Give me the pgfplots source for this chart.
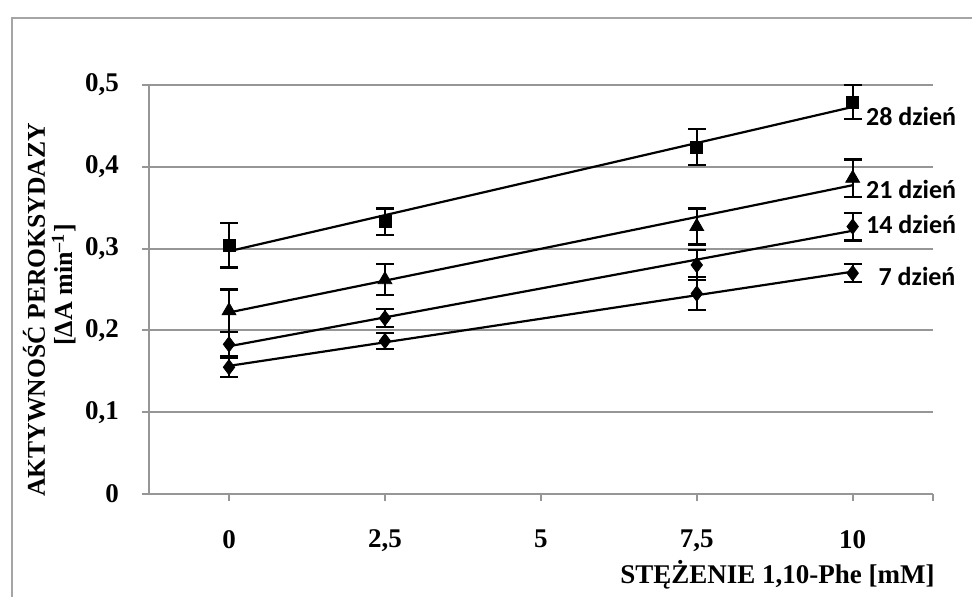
\documentclass[border=0pt]{standalone}
\usepackage{fontspec}
\setmainfont{Liberation Serif}
\newfontfamily\carlito{Carlito}
\usepackage{pgfplots}
\usepackage{pgfplotstable}
\pgfplotsset{compat=1.18}
\definecolor{gridgray}{RGB}{150,150,150}
\definecolor{framegray}{RGB}{165,165,165}
\pgfplotstableread{
x y28 e28 y21 e21 y14 e14 y7 e7
0 0.304 0.027 0.224 0.026 0.183 0.015 0.155 0.012
2.5 0.333 0.016 0.262 0.019 0.215 0.011 0.187 0.010
7.5 0.424 0.022 0.327 0.022 0.280 0.018 0.245 0.020
10 0.479 0.021 0.386 0.023 0.327 0.017 0.270 0.011
}\data
\pgfplotsset{errstyle/.style={only marks, black,
  error bars/y dir=both, error bars/y explicit,
  error bars/error bar style={line width=1.1pt, black},
  error bars/error mark options={rotate=90, mark size=4.5pt, line width=1.1pt, black}}}
\begin{document}
\begin{tikzpicture}
\useasboundingbox (0,0) rectangle (486pt,-298pt);
\fill[white] (0,0) rectangle (486pt,-298pt);
\draw[framegray, line width=1pt] (6pt,-310pt) -- (6pt,-9pt) -- (495pt,-9pt);
\begin{axis}[
  at={(74.5pt,-247pt)}, anchor=south west,
  scale only axis, width=392pt, height=204.5pt,
  xmin=-1.283, xmax=11.288, ymin=0, ymax=0.5,
  axis y line*=left, axis x line*=bottom,
  axis line style={gridgray, line width=1pt},
  xtick={0,2.5,5,7.5,10},
  extra x ticks={11.288}, extra x tick labels={},
  ytick={0,0.1,0.2,0.3,0.4,0.5},
  ymajorgrids, grid style={gridgray, line width=1pt},
  tick align=outside,
  major tick length=3.5pt,
  tick style={gridgray, line width=1pt},
  /pgf/number format/use comma,
  /pgf/number format/assume math mode=true,
  ticklabel style={font=\fontsize{13.5}{16}\selectfont\bfseries},
  yticklabel style={xshift=-8pt},
  xticklabel style={yshift=-11pt},
  clip=false,
]
% trend lines
\addplot[black, line width=1.1pt, no marks] table[x=x, y={create col/linear regression={y=y28}}] {\data};
\addplot[black, line width=1.1pt, no marks] table[x=x, y={create col/linear regression={y=y21}}] {\data};
\addplot[black, line width=1.1pt, no marks] table[x=x, y={create col/linear regression={y=y14}}] {\data};
\addplot[black, line width=1.1pt, no marks] table[x=x, y={create col/linear regression={y=y7}}] {\data};
% points with error bars
\addplot[errstyle, mark=square*, mark size=3pt] table[x=x, y=y28, y error=e28] {\data};
\addplot[errstyle, mark=triangle*, mark size=4pt] table[x=x, y=y21, y error=e21] {\data};
\addplot[errstyle, mark=diamond*, mark size=3.8pt] table[x=x, y=y14, y error=e14] {\data};
\addplot[errstyle, mark=diamond*, mark size=3.8pt] table[x=x, y=y7, y error=e7] {\data};
\node[anchor=west, inner sep=0pt, font=\carlito\bfseries\fontsize{13}{15}\selectfont] at (axis cs:10.21,0.461) {28 dzień};
\node[anchor=west, inner sep=0pt, font=\carlito\bfseries\fontsize{13}{15}\selectfont] at (axis cs:10.21,0.372) {21 dzień};
\node[anchor=west, inner sep=0pt, font=\carlito\bfseries\fontsize{13}{15}\selectfont] at (axis cs:10.21,0.329) {14 dzień};
\node[anchor=west, inner sep=0pt, font=\carlito\bfseries\fontsize{13}{15}\selectfont] at (axis cs:10.41,0.266) {7 dzień};
\end{axis}
\node[anchor=east, inner sep=0pt, font=\bfseries\fontsize{13.5}{16}\selectfont] at (467.5pt,-287.5pt) {STĘŻENIE 1,10-Phe [mM]};
\node[rotate=90, inner sep=0pt, font=\bfseries\fontsize{12.8}{15}\selectfont] at (17pt,-155pt) {AKTYWNOŚĆ PEROKSYDAZY};
\node[rotate=90, inner sep=0pt, font=\bfseries\fontsize{13}{15}\selectfont] at (32pt,-142.5pt) {[ΔA min\textsuperscript{–1}]};
\end{tikzpicture}
\end{document}
